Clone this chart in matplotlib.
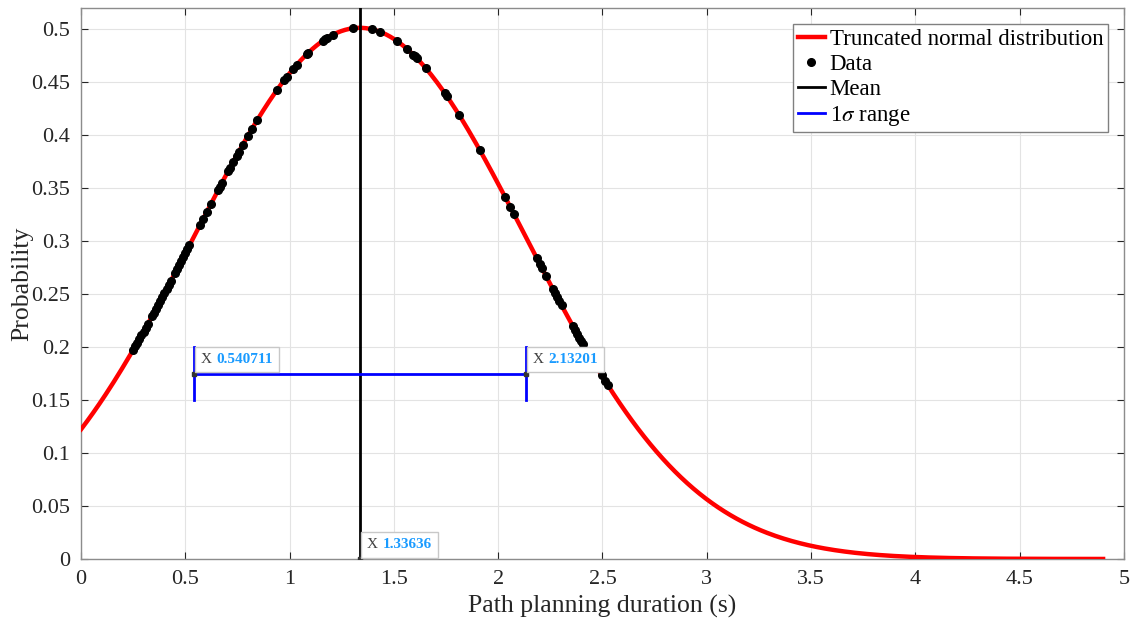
import matplotlib.pyplot as plt
import numpy as np
from matplotlib.offsetbox import TextArea, HPacker, AnnotationBbox

# fitted distribution parameters (read from datatips)
mu = 1.33636
lo_sigma = 0.540711
hi_sigma = 2.13201
sigma = hi_sigma - mu

data_x = [0.25, 0.26, 0.27, 0.28, 0.29, 0.30, 0.31, 0.32, 0.34, 0.35, 0.36,
          0.37, 0.38, 0.39, 0.40, 0.41, 0.42, 0.43, 0.45, 0.46, 0.47, 0.48,
          0.49, 0.50, 0.51, 0.52, 0.570, 0.585, 0.603, 0.623, 0.657, 0.666,
          0.674, 0.705, 0.714, 0.729, 0.746, 0.757, 0.775, 0.799, 0.818,
          0.845, 0.938, 0.973, 0.986, 1.015, 1.034, 1.082, 1.088, 1.160,
          1.170, 1.178, 1.208, 1.304, 1.394, 1.433, 1.513, 1.561, 1.592,
          1.600, 1.609, 1.654, 1.745, 1.755, 1.812, 1.913, 2.033, 2.057,
          2.076, 2.185, 2.200, 2.210, 2.229, 2.263, 2.273, 2.283, 2.293,
          2.304, 2.359, 2.369, 2.379, 2.389, 2.399, 2.407, 2.496, 2.512,
          2.526]

x_ticks = [0, 0.5, 1, 1.5, 2, 2.5, 3, 3.5, 4, 4.5, 5]
y_ticks = [0, 0.05, 0.1, 0.15, 0.2, 0.25, 0.3, 0.35, 0.4, 0.45, 0.5]
sigma_bar_y = 0.175


def pdf(x):
    x = np.asarray(x)
    return np.exp(-0.5 * ((x - mu) / sigma) ** 2) / (sigma * np.sqrt(2 * np.pi))


plt.rcParams['font.family'] = ['Liberation Serif', 'DejaVu Serif']
plt.rcParams['mathtext.fontset'] = 'stix'

fig = plt.figure(figsize=(11.33, 6.24), dpi=100)
ax = fig.add_axes([0.0715, 0.1042, 0.9205, 0.8828])

xs = np.linspace(0, 4.9, 500)
ax.plot(xs, pdf(xs), color='red', lw=3.2, label='Truncated normal distribution', zorder=3)
ax.plot(data_x, pdf(data_x), 'o', color='black', ms=5.5, ls='none', label='Data', zorder=4)
ax.plot([mu, mu], [0, 0.52], color='black', lw=2, label='Mean', zorder=5)

# 1 sigma range bar
ax.plot([lo_sigma, hi_sigma], [sigma_bar_y, sigma_bar_y], color='blue', lw=2,
        label=r'1$\sigma$ range', zorder=5)
ax.plot([lo_sigma, lo_sigma], [0.15, 0.2], color='blue', lw=2, zorder=5)
ax.plot([hi_sigma, hi_sigma], [0.15, 0.2], color='blue', lw=2, zorder=5)

# datatips
tips = [(lo_sigma, sigma_bar_y, '0.540711'), (hi_sigma, sigma_bar_y, '2.13201'), (mu, 0, '1.33636')]
for tx, ty, val in tips:
    ax.plot(tx, ty, 's', color='#333333', ms=2.5, zorder=7)
    box = HPacker(children=[
        TextArea('X ', textprops=dict(fontsize=11, color='#404040')),
        TextArea(val, textprops=dict(fontsize=11, color='#1a9bff', fontweight='bold')),
    ], align='baseline', pad=4.5, sep=0)
    ab = AnnotationBbox(box, (tx, ty), xybox=(1, 1), xycoords='data',
                        boxcoords='offset points', box_alignment=(0, 0), pad=0,
                        frameon=True, zorder=8,
                        bboxprops=dict(boxstyle='square,pad=0', fc='white', ec='#c8c8c8', lw=1))
    ax.add_artist(ab)

ax.set_xlim(0, 5)
ax.set_ylim(0, 0.52)
ax.set_xticks(x_ticks)
ax.set_xticklabels([f'{v:g}' for v in x_ticks])
ax.set_yticks(y_ticks)
ax.set_yticklabels([f'{v:g}' for v in y_ticks])
ax.tick_params(direction='in', labelsize=16, colors='#262626', length=5,
               right=True, top=True, labelcolor='#262626')
ax.tick_params(axis='x', pad=8)
ax.tick_params(axis='y', pad=8)
ax.grid(True, color='#e3e3e3', lw=0.8)
ax.set_axisbelow(True)
for s in ax.spines.values():
    s.set_color('#8c8c8c')
    s.set_linewidth(1)

ax.set_xlabel('Path planning duration (s)', fontsize=18.5, color='#262626', labelpad=4)
ax.set_ylabel('Probability', fontsize=18.5, color='#262626')
ax.yaxis.set_label_coords(-0.046, 0.5)

leg = ax.legend(loc='upper right', fontsize=16.5, frameon=True, fancybox=False,
                handlelength=1.2, handletextpad=0.2, borderpad=0.2, labelspacing=0.17,
                borderaxespad=0.7)
leg.get_frame().set_edgecolor('#808080')
leg.get_frame().set_linewidth(1)
leg.get_frame().set_alpha(1)

plt.savefig('out.png', dpi=100)
